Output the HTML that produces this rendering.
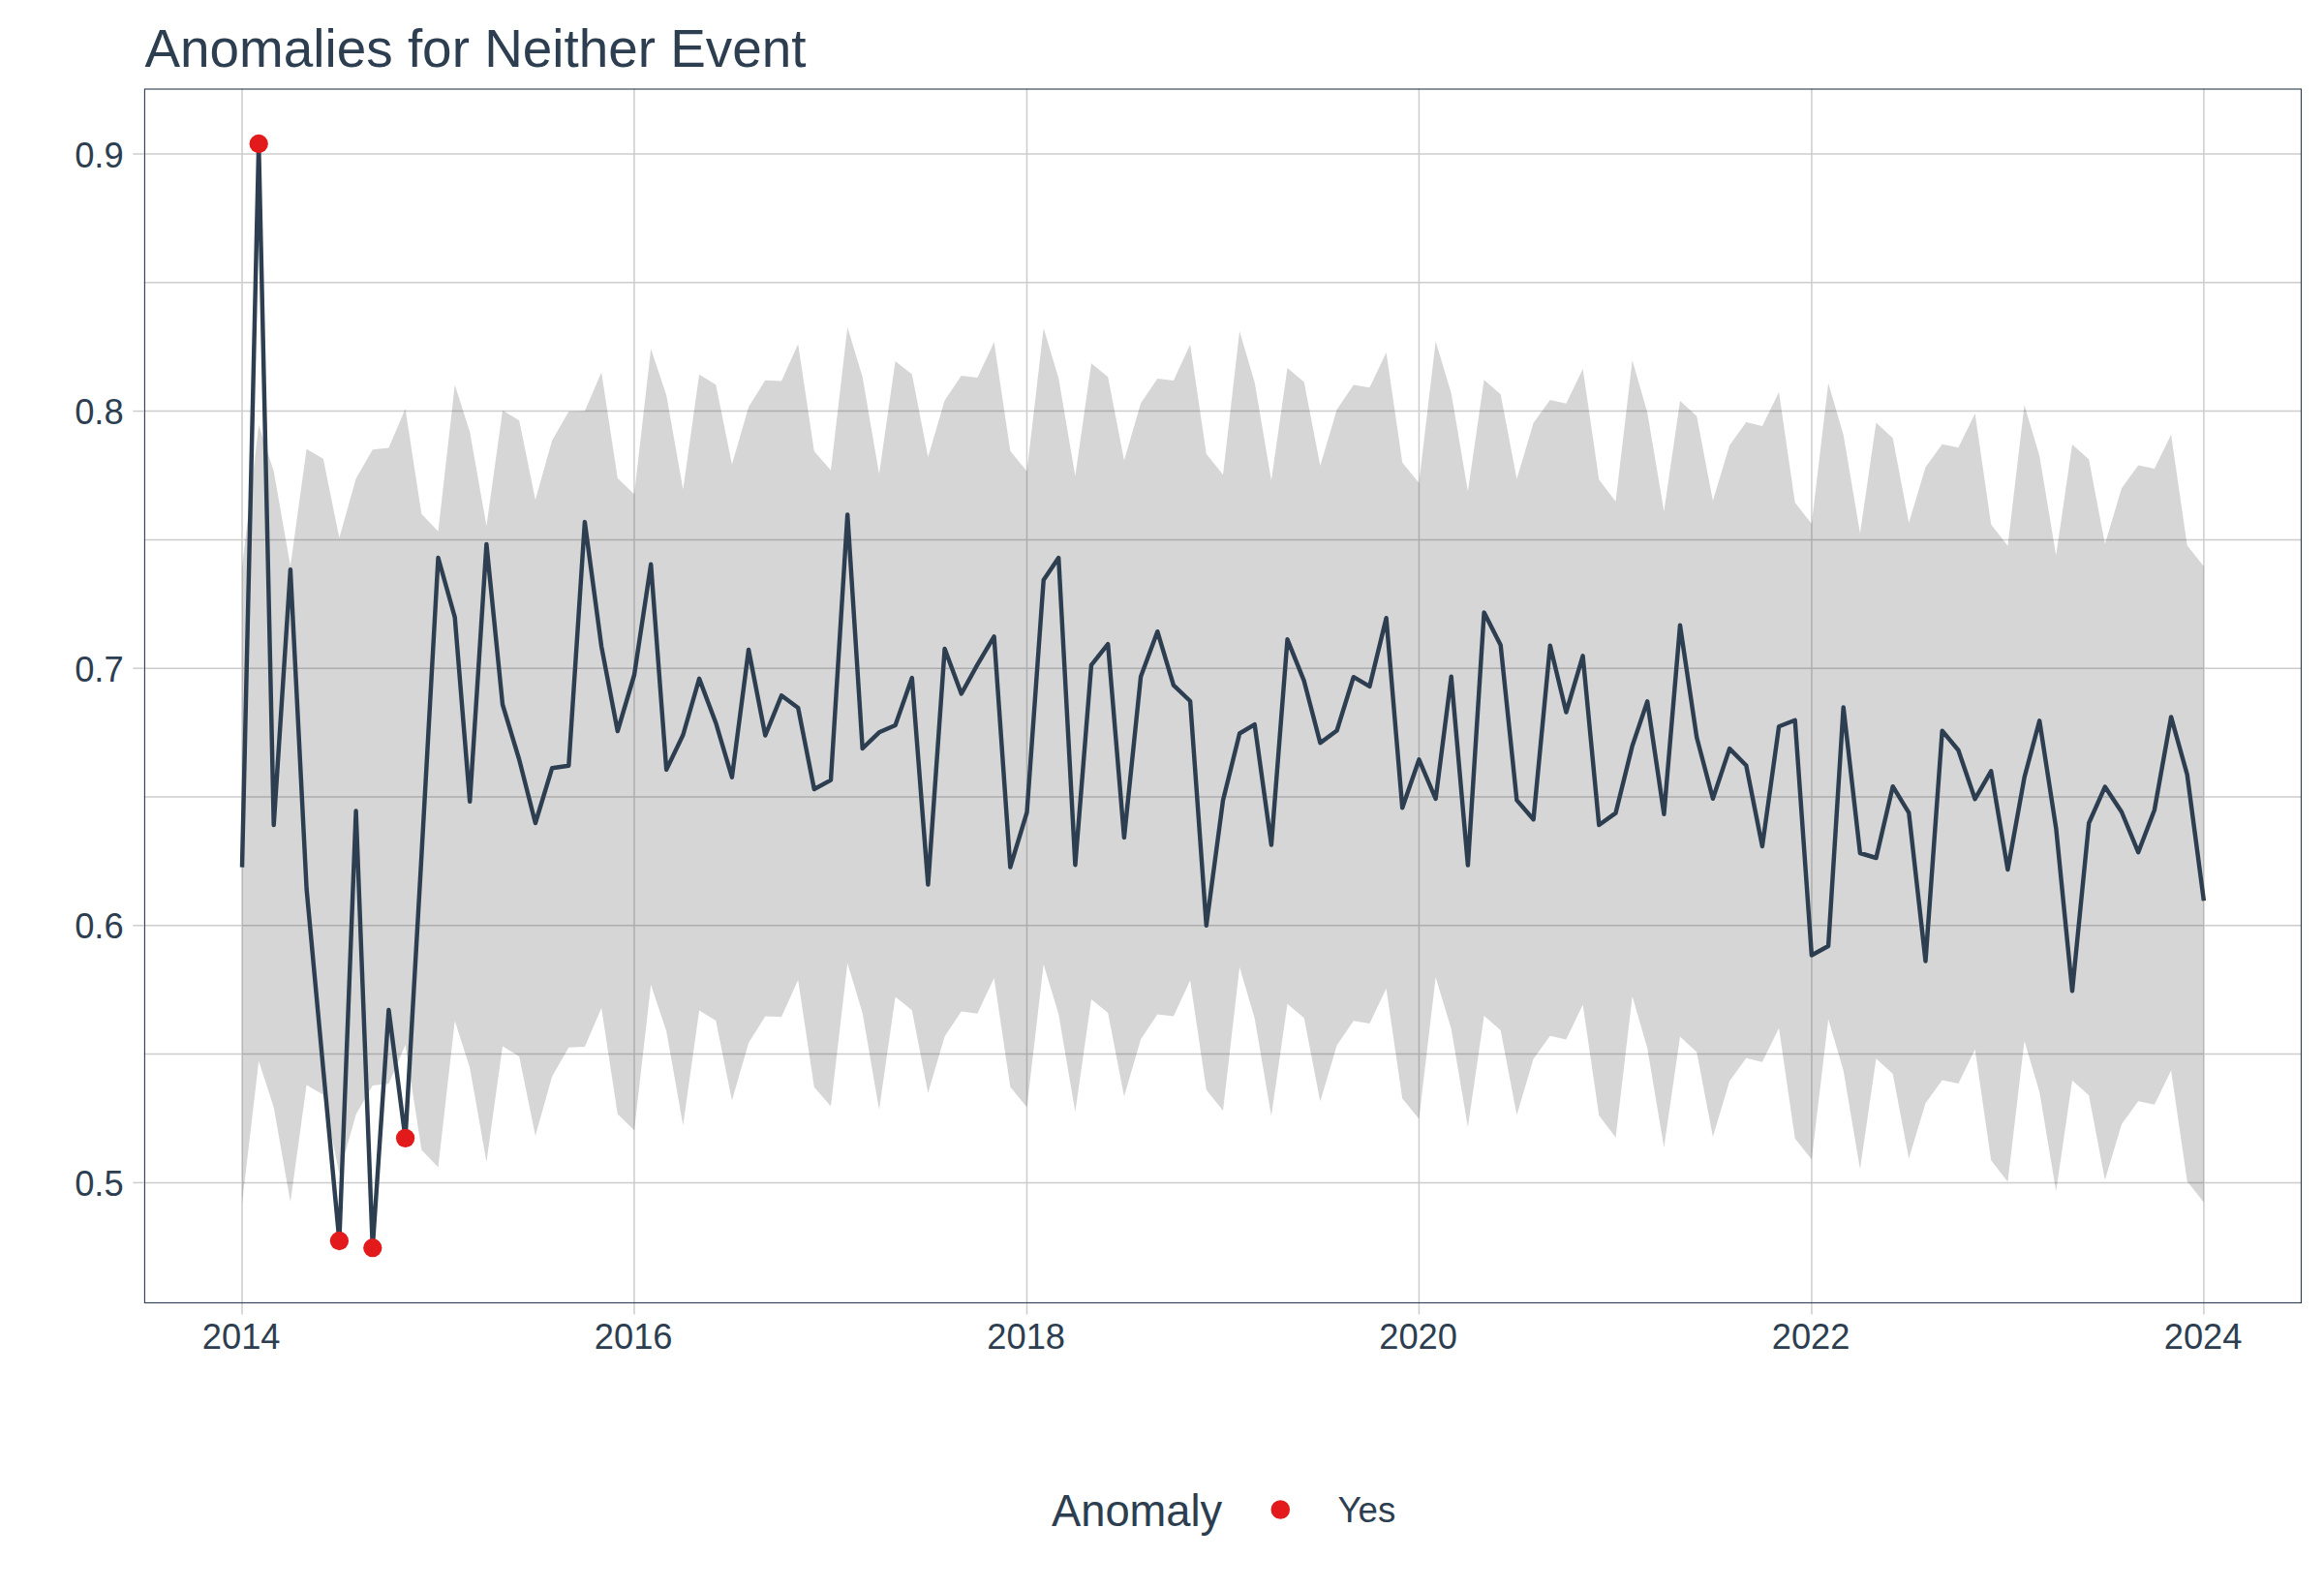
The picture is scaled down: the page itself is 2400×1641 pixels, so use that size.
<!DOCTYPE html><html><head><meta charset="utf-8"><title>Anomalies for Neither Event</title>
<style>html,body{margin:0;padding:0;background:#fff}svg{display:block}text{font-family:"Liberation Sans",Arial,Helvetica,sans-serif;fill:#2c3e50}</style></head><body>
<svg width="2400" height="1641" viewBox="0 0 2400 1641">
<rect x="0" y="0" width="2400" height="1641" fill="#ffffff"/>
<g stroke="#cccccc" stroke-width="1.48" fill="none">
<line x1="148.8" x2="2377.0" y1="291.80" y2="291.80"/>
<line x1="148.8" x2="2377.0" y1="557.40" y2="557.40"/>
<line x1="148.8" x2="2377.0" y1="823.00" y2="823.00"/>
<line x1="148.8" x2="2377.0" y1="1088.60" y2="1088.60"/>
<line x1="148.8" x2="2377.0" y1="159.00" y2="159.00"/>
<line x1="148.8" x2="2377.0" y1="424.60" y2="424.60"/>
<line x1="148.8" x2="2377.0" y1="690.20" y2="690.20"/>
<line x1="148.8" x2="2377.0" y1="955.80" y2="955.80"/>
<line x1="148.8" x2="2377.0" y1="1221.40" y2="1221.40"/>
<line x1="250.00" x2="250.00" y1="91.5" y2="1346.0"/>
<line x1="654.96" x2="654.96" y1="91.5" y2="1346.0"/>
<line x1="1060.47" x2="1060.47" y1="91.5" y2="1346.0"/>
<line x1="1465.43" x2="1465.43" y1="91.5" y2="1346.0"/>
<line x1="1870.94" x2="1870.94" y1="91.5" y2="1346.0"/>
<line x1="2275.90" x2="2275.90" y1="91.5" y2="1346.0"/>
</g>
<polygon points="250.0,586.0 267.2,439.1 282.7,486.7 299.9,584.6 316.6,463.8 333.8,473.8 350.4,555.5 367.6,494.3 384.8,464.3 401.4,462.6 418.6,422.3 435.3,530.8 452.5,548.8 469.7,397.6 485.2,446.1 502.4,543.2 519.0,423.7 536.2,434.3 552.9,516.2 570.1,455.0 587.3,425.0 603.9,424.4 621.1,384.4 637.8,493.8 655.0,510.5 672.2,360.2 688.2,408.2 705.4,505.6 722.1,386.7 739.3,397.3 755.9,479.7 773.1,420.2 790.3,392.7 807.0,393.6 824.2,355.3 840.8,466.1 858.0,485.8 875.2,338.0 890.7,389.3 907.9,489.4 924.6,372.9 941.8,386.5 958.4,472.1 975.6,413.5 992.8,387.9 1009.4,390.0 1026.6,353.2 1043.3,465.8 1060.5,486.7 1077.7,339.1 1093.2,390.6 1110.4,491.5 1127.0,375.2 1144.2,389.3 1160.9,475.6 1178.1,416.5 1195.3,390.9 1211.9,392.9 1229.1,355.8 1245.8,468.7 1263.0,490.3 1280.1,342.1 1295.7,395.0 1312.9,495.9 1329.5,380.0 1346.7,394.5 1363.4,480.9 1380.6,422.9 1397.8,397.6 1414.4,400.3 1431.6,364.1 1448.2,477.7 1465.4,498.7 1482.6,352.6 1498.7,405.9 1515.9,507.4 1532.6,392.3 1549.7,407.3 1566.4,494.7 1583.6,436.8 1600.8,413.0 1617.4,416.7 1634.6,380.9 1651.3,495.2 1668.5,518.0 1685.7,372.0 1701.2,425.9 1718.4,528.2 1735.0,413.9 1752.2,429.7 1768.9,517.2 1786.1,459.9 1803.3,436.1 1819.9,440.0 1837.1,405.0 1853.7,519.1 1870.9,540.9 1888.1,395.8 1903.7,448.9 1920.9,550.8 1937.5,436.6 1954.7,452.4 1971.3,539.9 1988.5,482.5 2005.7,458.8 2022.4,462.3 2039.6,427.1 2056.2,541.5 2073.4,563.7 2090.6,418.2 2106.2,471.0 2123.3,573.6 2140.0,459.0 2157.2,474.6 2173.8,561.7 2191.0,504.3 2208.2,480.5 2224.9,484.1 2242.1,448.9 2258.7,563.3 2275.9,585.0 2275.9,1241.7 2258.7,1220.0 2242.1,1105.6 2224.9,1140.8 2208.2,1137.2 2191.0,1161.0 2173.8,1218.4 2157.2,1131.3 2140.0,1115.7 2123.3,1230.3 2106.2,1127.7 2090.6,1074.9 2073.4,1220.4 2056.2,1198.2 2039.6,1083.8 2022.4,1119.0 2005.7,1115.5 1988.5,1139.2 1971.3,1196.6 1954.7,1109.1 1937.5,1093.3 1920.9,1207.5 1903.7,1105.6 1888.1,1052.5 1870.9,1197.6 1853.7,1175.8 1837.1,1061.7 1819.9,1096.7 1803.3,1092.8 1786.1,1116.6 1768.9,1173.9 1752.2,1086.4 1735.0,1070.6 1718.4,1184.9 1701.2,1082.6 1685.7,1028.7 1668.5,1174.7 1651.3,1151.9 1634.6,1037.6 1617.4,1073.4 1600.8,1069.7 1583.6,1093.5 1566.4,1151.4 1549.7,1064.0 1532.6,1049.0 1515.9,1164.1 1498.7,1062.6 1482.6,1009.3 1465.4,1155.4 1448.2,1134.4 1431.6,1020.8 1414.4,1057.0 1397.8,1054.3 1380.6,1079.6 1363.4,1137.6 1346.7,1051.2 1329.5,1036.7 1312.9,1152.6 1295.7,1051.7 1280.1,998.8 1263.0,1147.0 1245.8,1125.4 1229.1,1012.5 1211.9,1049.6 1195.3,1047.6 1178.1,1073.2 1160.9,1132.3 1144.2,1046.0 1127.0,1031.9 1110.4,1148.2 1093.2,1047.3 1077.7,995.8 1060.5,1143.4 1043.3,1122.5 1026.6,1009.9 1009.4,1046.7 992.8,1044.6 975.6,1070.2 958.4,1128.8 941.8,1043.2 924.6,1029.6 907.9,1146.1 890.7,1046.0 875.2,994.7 858.0,1142.5 840.8,1122.8 824.2,1012.0 807.0,1050.3 790.3,1049.4 773.1,1076.9 755.9,1136.4 739.3,1054.0 722.1,1043.4 705.4,1162.3 688.2,1064.9 672.2,1016.9 655.0,1167.2 637.8,1150.5 621.1,1041.1 603.9,1081.1 587.3,1081.7 570.1,1111.7 552.9,1172.9 536.2,1091.0 519.0,1080.4 502.4,1199.9 485.2,1102.8 469.7,1054.3 452.5,1205.5 435.3,1187.5 418.6,1079.0 401.4,1119.3 384.8,1121.0 367.6,1151.0 350.4,1212.2 333.8,1130.5 316.6,1120.5 299.9,1241.3 282.7,1143.4 267.2,1095.8 250.0,1242.7" fill="#333333" fill-opacity="0.2" stroke="none"/>
<polyline points="250.0,895.6 267.2,148.5 282.7,852.0 299.9,588.3 316.6,918.0 333.8,1104.0 350.4,1281.5 367.6,837.5 384.8,1288.7 401.4,1042.9 418.6,1175.4 435.3,884.0 452.5,576.0 469.7,637.3 485.2,827.8 502.4,562.0 519.0,727.5 536.2,784.5 552.9,850.0 570.1,793.3 587.3,790.7 603.9,539.1 621.1,667.6 637.8,755.0 655.0,697.0 672.2,582.8 688.2,794.9 705.4,759.0 722.1,700.9 739.3,746.7 755.9,802.7 773.1,670.9 790.3,759.5 807.0,718.3 824.2,731.0 840.8,815.0 858.0,805.6 875.2,531.4 890.7,773.0 907.9,756.3 924.6,749.0 941.8,700.0 958.4,913.5 975.6,670.0 992.8,716.5 1009.4,686.4 1026.6,657.3 1043.3,895.5 1060.5,838.8 1077.7,599.1 1093.2,576.0 1110.4,893.2 1127.0,686.8 1144.2,665.2 1160.9,864.9 1178.1,698.8 1195.3,652.2 1211.9,707.6 1229.1,724.0 1245.8,955.8 1263.0,826.5 1280.1,757.5 1295.7,748.2 1312.9,872.5 1329.5,660.3 1346.7,703.2 1363.4,767.2 1380.6,754.5 1397.8,699.2 1414.4,708.9 1431.6,638.2 1448.2,834.2 1465.4,784.4 1482.6,825.0 1498.7,698.8 1515.9,893.5 1532.6,632.6 1549.7,666.2 1566.4,826.4 1583.6,846.2 1600.8,666.8 1617.4,735.5 1634.6,677.4 1651.3,852.0 1668.5,839.6 1685.7,770.3 1701.2,724.4 1718.4,840.7 1735.0,645.8 1752.2,761.4 1768.9,824.8 1786.1,773.1 1803.3,790.5 1819.9,874.0 1837.1,750.3 1853.7,743.8 1870.9,986.5 1888.1,977.0 1903.7,730.4 1920.9,881.0 1937.5,886.0 1954.7,812.2 1971.3,839.4 1988.5,992.5 2005.7,754.7 2022.4,774.7 2039.6,825.2 2056.2,796.3 2073.4,898.0 2090.6,802.8 2106.2,744.3 2123.3,855.3 2140.0,1023.4 2157.2,850.0 2173.8,812.6 2191.0,838.5 2208.2,880.2 2224.9,836.5 2242.1,740.4 2258.7,799.9 2275.9,930.3" fill="none" stroke="#2c3e50" stroke-width="4.45" stroke-linejoin="round" stroke-linecap="butt"/>
<circle cx="267.2" cy="148.5" r="9.65" fill="#e31a1c"/>
<circle cx="350.4" cy="1281.5" r="9.65" fill="#e31a1c"/>
<circle cx="384.8" cy="1288.7" r="9.65" fill="#e31a1c"/>
<circle cx="418.6" cy="1175.4" r="9.65" fill="#e31a1c"/>
<rect x="149.41" y="92.01" width="2227.04" height="1253.44" fill="none" stroke="#2c3e50" stroke-width="1.11"/>
<g stroke="#cccccc" stroke-width="1.48">
<line x1="137.4" x2="148.8" y1="159.00" y2="159.00"/>
<line x1="137.4" x2="148.8" y1="424.60" y2="424.60"/>
<line x1="137.4" x2="148.8" y1="690.20" y2="690.20"/>
<line x1="137.4" x2="148.8" y1="955.80" y2="955.80"/>
<line x1="137.4" x2="148.8" y1="1221.40" y2="1221.40"/>
<line x1="250.00" x2="250.00" y1="1346.0" y2="1357.5"/>
<line x1="654.96" x2="654.96" y1="1346.0" y2="1357.5"/>
<line x1="1060.47" x2="1060.47" y1="1346.0" y2="1357.5"/>
<line x1="1465.43" x2="1465.43" y1="1346.0" y2="1357.5"/>
<line x1="1870.94" x2="1870.94" y1="1346.0" y2="1357.5"/>
<line x1="2275.90" x2="2275.90" y1="1346.0" y2="1357.5"/>
</g>
<text x="127.6" y="172.6" font-size="36.3" text-anchor="end">0.9</text>
<text x="127.6" y="438.2" font-size="36.3" text-anchor="end">0.8</text>
<text x="127.6" y="703.8" font-size="36.3" text-anchor="end">0.7</text>
<text x="127.6" y="969.4" font-size="36.3" text-anchor="end">0.6</text>
<text x="127.6" y="1235.0" font-size="36.3" text-anchor="end">0.5</text>
<text x="249.2" y="1392.5" font-size="36.3" text-anchor="middle">2014</text>
<text x="654.2" y="1392.5" font-size="36.3" text-anchor="middle">2016</text>
<text x="1059.7" y="1392.5" font-size="36.3" text-anchor="middle">2018</text>
<text x="1464.6" y="1392.5" font-size="36.3" text-anchor="middle">2020</text>
<text x="1870.1" y="1392.5" font-size="36.3" text-anchor="middle">2022</text>
<text x="2275.1" y="1392.5" font-size="36.3" text-anchor="middle">2024</text>
<text x="149.5" y="68.5" font-size="54.86">Anomalies for Neither Event</text>
<text x="1086" y="1575.7" font-size="45.3">Anomaly</text>
<circle cx="1322.3" cy="1559" r="9.8" fill="#e31a1c"/>
<text x="1381.5" y="1571.6" font-size="36.67">Yes</text>
</svg></body></html>
